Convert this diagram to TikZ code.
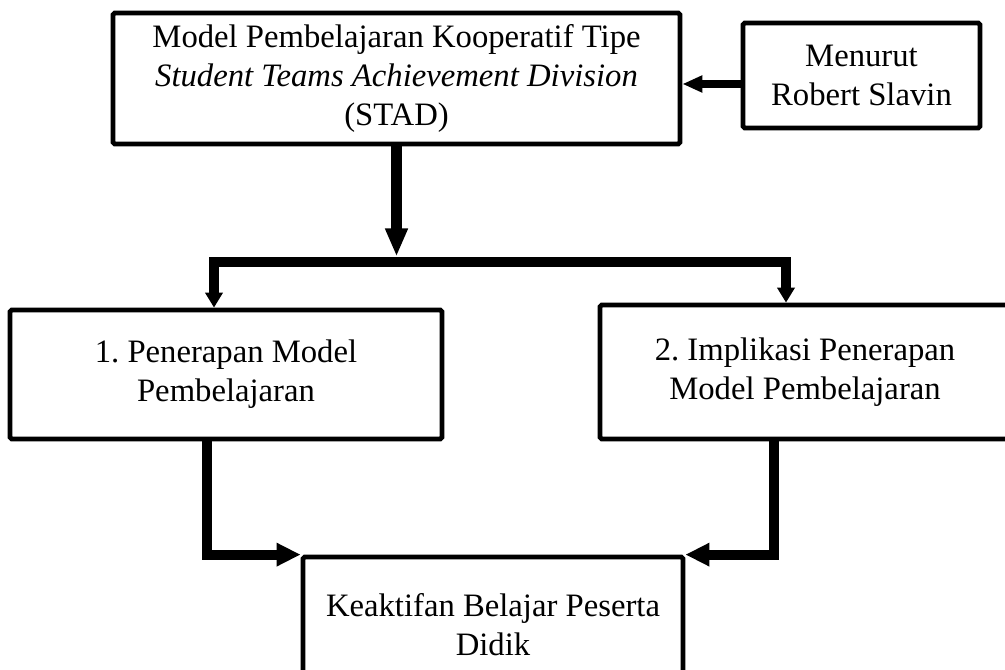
\documentclass[tikz,border=0pt]{standalone}
\usepackage{fontspec}
\setmainfont{Liberation Serif}
\usetikzlibrary{arrows.meta, positioning, calc}
\frenchspacing

\begin{document}
\begin{tikzpicture}[
  font=\fontsize{18.6}{22.2}\selectfont,
  % Box styles
  frame/.style={draw, line width=2.7pt, rounded corners=1pt, align=center, inner sep=2pt},
  arrow/.style={-{Triangle[length=0.48cm, width=0.44cm]}, line width=5.7pt},
  sidearrow/.style={-{Triangle[length=0.4cm, width=0.32cm]}, line width=4.8pt},
  bar/.style={{Triangle[length=0.3cm, width=0.34cm]}-{Triangle[length=0.3cm, width=0.34cm]},
              line width=5.9pt},
]
\useasboundingbox (0,0) rectangle (20.1,13.4);
\clip (0,0) rectangle (20.1,13.4);

% ---- MODEL + SOURCE ----
\node[frame, minimum width=11.34cm, minimum height=2.62cm] (model) at (7.93, 11.83)
  {Model Pembelajaran Kooperatif Tipe\\\textit{Student Teams Achievement Division}\\(STAD)};
\node[frame, minimum width=4.74cm, minimum height=2.1cm] (slavin) at (17.23, 11.89)
  {Menurut\\Robert Slavin};

\draw[sidearrow] ([yshift=-0.17cm]slavin.west) -- ([yshift=-0.17cm]slavin.west -| model.east);

% ---- SPLIT ----
\coordinate (jl) at (4.28, 8.16);
\coordinate (jr) at (15.72, 8.16);

\node[frame, minimum width=8.64cm, minimum height=2.58cm] (apply) at (4.52, 5.91)
  {1. Penerapan Model\\Pembelajaran};
\node[frame, minimum width=8.2cm, minimum height=2.68cm] (impl) at (16.10, 5.96)
  {2. Implikasi Penerapan\\Model Pembelajaran};

\draw[arrow, -{Triangle[length=0.56cm, width=0.42cm]}, shorten >=0.11cm]
  (model.south) -- (model.south |- jl);
\draw[bar] (jl |- apply.north) -- (jl) -- (jr) -- (jr |- impl.north);

% ---- RESULT ----
\node[frame, minimum width=7.6cm, minimum height=2.72cm] (result) at (9.86, 0.90)
  {Keaktifan Belajar Peserta\\Didik};

\draw[arrow] ([xshift=-0.38cm]apply.south) |- (result.north west);
\draw[arrow] ([xshift=-0.62cm]impl.south) |- (result.north east);

\end{tikzpicture}
\end{document}
